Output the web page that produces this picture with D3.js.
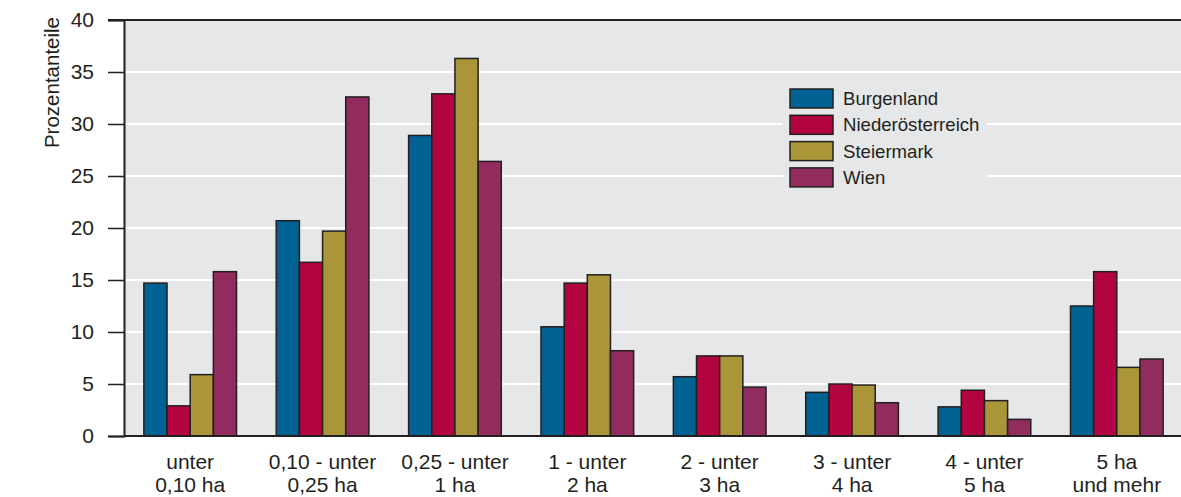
<!DOCTYPE html>
<meta charset="utf-8">
<title>Prozentanteile nach Größenklassen</title>
<script src="https://d3js.org/d3.v7.min.js"></script>
<style>
    body { margin: 0; background: #fff; }
    svg { display: block; font-family: "Liberation Sans", Arial, sans-serif; }
    .tick text { fill: #231f20; }
</style>
<body>
<script>
    // Data
    const categories = [
        ["unter", "0,10 ha"],
        ["0,10 - unter", "0,25 ha"],
        ["0,25 - unter", "1 ha"],
        ["1 - unter", "2 ha"],
        ["2 - unter", "3 ha"],
        ["3 - unter", "4 ha"],
        ["4 - unter", "5 ha"],
        ["5 ha", "und mehr"]
    ];
    const seriesNames = ["Burgenland", "Niederösterreich", "Steiermark", "Wien"];
    const burgenland      = [14.7, 20.7, 28.9, 10.5, 5.7, 4.2, 2.8, 12.5];
    const niederoesterreich = [2.9, 16.7, 32.9, 14.7, 7.7, 5.0, 4.4, 15.8];
    const steiermark      = [5.9, 19.7, 36.3, 15.5, 7.7, 4.9, 3.4, 6.6];
    const wien            = [15.8, 32.6, 26.4, 8.2, 4.7, 3.2, 1.6, 7.4];
    const yTicks = [0, 5, 10, 15, 20, 25, 30, 35, 40];

    const seriesValues = [burgenland, niederoesterreich, steiermark, wien];
    const colors = ["#006193", "#b20441", "#aa9539", "#922b5e"];

    const width = 1181, height = 497;
    const margin = { top: 20, right: -2, bottom: 61, left: 124 };

    const svg = d3.select("body").append("svg")
        .attr("width", width)
        .attr("height", height);

    // Scales
    const x0 = d3.scaleBand()
        .domain(d3.range(categories.length))
        .range([margin.left, width - margin.right])
        .paddingInner(0.3)
        .paddingOuter(0.15);

    const x1 = d3.scaleBand()
        .domain(d3.range(seriesNames.length))
        .range([0, x0.bandwidth()]);

    const y = d3.scaleLinear()
        .domain([0, 40])
        .range([height - margin.bottom, margin.top]);

    // Plot background
    svg.append("rect")
        .attr("x", margin.left)
        .attr("y", margin.top)
        .attr("width", width - margin.left)
        .attr("height", y(0) - margin.top)
        .attr("fill", "#e6e7e9");

    // Grid lines
    svg.append("g")
        .selectAll("line")
        .data(yTicks.filter(d => d > 0 && d < 40))
        .enter()
        .append("line")
        .attr("x1", margin.left)
        .attr("x2", width)
        .attr("y1", d => y(d))
        .attr("y2", d => y(d))
        .attr("stroke", "#ffffff")
        .attr("stroke-width", 2);

    // Legend background hides the grid
    const legend = svg.append("g").attr("transform", "translate(790,89)");
    legend.append("rect")
        .attr("x", -7)
        .attr("y", -9)
        .attr("width", 204)
        .attr("height", 112)
        .attr("fill", "#e6e7e9");

    // Bars
    const groups = svg.append("g")
        .selectAll("g")
        .data(categories.map((c, i) => i))
        .enter()
        .append("g")
        .attr("transform", i => "translate(" + x0(i) + ",0)");

    groups.selectAll("rect")
        .data(i => seriesValues.map((vals, s) => ({ s: s, v: vals[i] })))
        .enter()
        .append("rect")
        .attr("x", d => x1(d.s))
        .attr("y", d => y(d.v))
        .attr("width", x1.bandwidth())
        .attr("height", d => y(0) - y(d.v))
        .attr("fill", d => colors[d.s])
        .attr("stroke", "#231f20")
        .attr("stroke-width", 1.5);

    // Top border
    svg.append("line")
        .attr("x1", margin.left - 16)
        .attr("x2", width)
        .attr("y1", y(40))
        .attr("y2", y(40))
        .attr("stroke", "#231f20")
        .attr("stroke-width", 2);

    // Y axis
    const yAxis = d3.axisLeft(y).tickValues(yTicks).tickSize(16).tickPadding(14);
    const gy = svg.append("g")
        .attr("transform", "translate(" + margin.left + ",0)")
        .call(yAxis);
    gy.select(".domain").attr("stroke", "#231f20").attr("stroke-width", 2);
    gy.selectAll(".tick line").attr("stroke", "#231f20").attr("stroke-width", 1.5);
    gy.selectAll(".tick text")
        .attr("font-size", 21)
        .attr("font-family", "Liberation Sans, Arial, sans-serif");

    // X axis baseline
    svg.append("line")
        .attr("x1", margin.left)
        .attr("x2", width)
        .attr("y1", y(0))
        .attr("y2", y(0))
        .attr("stroke", "#231f20")
        .attr("stroke-width", 2);

    // X labels (two lines)
    const xl = svg.append("g")
        .selectAll("text")
        .data(categories)
        .enter()
        .append("text")
        .attr("text-anchor", "middle")
        .attr("font-size", 21)
        .attr("fill", "#231f20")
        .attr("transform", (d, i) => "translate(" + (x0(i) + x0.bandwidth() / 2) + ",0)");
    xl.append("tspan").attr("x", 0).attr("y", 469).text(d => d[0]);
    xl.append("tspan").attr("x", 0).attr("y", 492).text(d => d[1]);

    // Y label
    svg.append("text")
        .attr("transform", "translate(59,17) rotate(-90)")
        .attr("text-anchor", "end")
        .attr("font-size", 20.5)
        .attr("fill", "#231f20")
        .text("Prozentanteile");

    // Legend entries
    const items = legend.selectAll("g")
        .data(seriesNames)
        .enter()
        .append("g")
        .attr("transform", (d, i) => "translate(0," + i * 26.3 + ")");
    items.append("rect")
        .attr("width", 43)
        .attr("height", 19)
        .attr("fill", (d, i) => colors[i])
        .attr("stroke", "#231f20")
        .attr("stroke-width", 1.5);
    items.append("text")
        .attr("x", 53)
        .attr("y", 16)
        .attr("font-size", 18.6)
        .attr("fill", "#231f20")
        .text(d => d);
</script>
</body>
